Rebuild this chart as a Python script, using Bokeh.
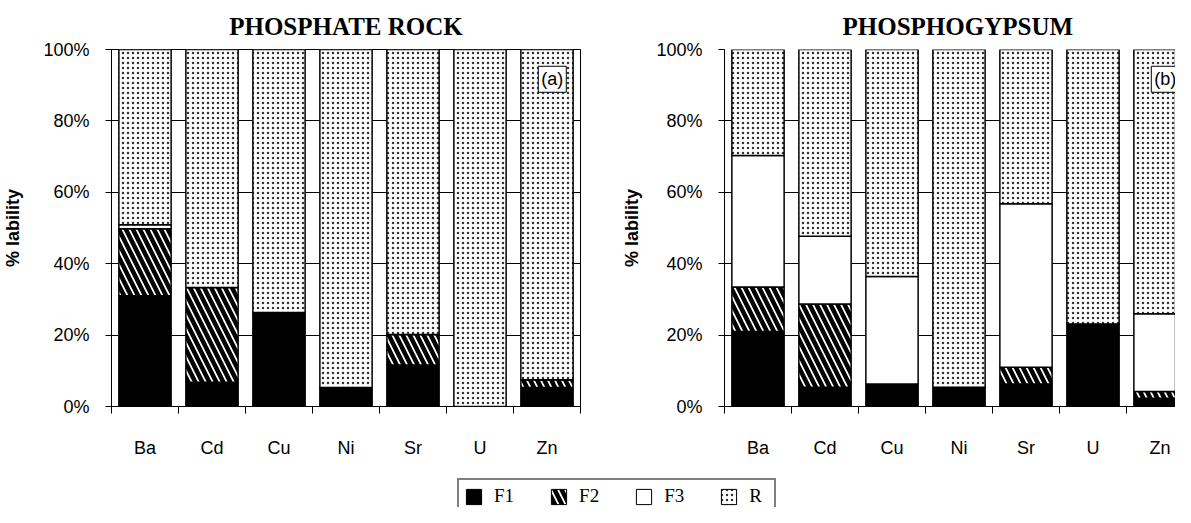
from bokeh.plotting import figure
from bokeh.layouts import column, row
from bokeh.models import Range1d, FixedTicker, Label, Legend, LegendItem, ColumnDataSource
from bokeh.embed import file_html
from bokeh.resources import INLINE

elements = ["Ba", "Cd", "Cu", "Ni", "Sr", "U", "Zn"]
fractions = ["F1", "F2", "F3", "R"]
y_ticks = [0, 20, 40, 60, 80, 100]
y_tick_labels = ["0%", "20%", "40%", "60%", "80%", "100%"]

# PHOSPHATE ROCK (%)
rock_F1 = [31.0, 6.8, 26.3, 5.3, 11.6, 0.0, 5.3]
rock_F2 = [18.8, 26.5, 0.0, 0.0, 8.6, 0.0, 2.2]
rock_F3 = [1.1, 0.0, 0.0, 0.0, 0.0, 0.0, 0.0]
rock_R = [49.1, 66.7, 73.7, 94.7, 79.8, 100.0, 92.5]

# PHOSPHOGYPSUM (%)
gyps_F1 = [21.0, 5.4, 6.3, 5.4, 6.3, 23.1, 2.3]
gyps_F2 = [12.5, 23.3, 0.0, 0.0, 4.7, 0.0, 1.9]
gyps_F3 = [36.8, 19.0, 30.1, 0.0, 45.8, 0.0, 21.8]
gyps_R = [29.7, 52.3, 63.6, 94.6, 43.2, 76.9, 74.0]

fills = ["black", "white", "white", "white"]
hatches = [None, "\\", None, "."]
hatch_colors = ["black", "black", "black", "#333333"]
hatch_scales = [1, 14, 1, 5]
hatch_weights = [1, 4.5, 1, 1.2]

SANS = "Liberation Sans"
SERIF = "Liberation Serif"

centers = [i + 0.5 for i in range(len(elements))]
bounds = [float(i) for i in range(len(elements) + 1)]


def stack(p, src):
    return p.vbar_stack(fractions, x="x", width=0.78, source=src,
                        fill_color=fills, hatch_pattern=hatches, hatch_color=hatch_colors,
                        hatch_scale=hatch_scales, hatch_weight=hatch_weights,
                        line_color="black", line_width=1.5)


def make_chart(title, src, tag, width, border_left, border_right, x_end, outline, label_standoff):
    p = figure(width=width, height=474, title=title,
               x_range=Range1d(0, x_end), y_range=Range1d(0, 100),
               toolbar_location=None, output_backend="svg",
               min_border_left=border_left, min_border_right=border_right,
               min_border_top=48, min_border_bottom=68)
    p.background_fill_color = "white"
    p.border_fill_color = "white"
    p.outline_line_color = "black" if outline else None
    p.outline_line_width = 1

    p.title.text_font = SERIF
    p.title.text_font_size = "25px"
    p.title.text_font_style = "bold"
    p.title.text_color = "black"
    p.title.standoff = 20

    stack(p, src)

    xa = p.xaxis[0]
    xa.ticker = FixedTicker(ticks=centers, minor_ticks=bounds)
    xa.major_label_overrides = {c: e for c, e in zip(centers, elements)}
    xa.major_tick_line_color = None
    xa.major_tick_out = 0
    xa.major_tick_in = 0
    xa.minor_tick_line_color = "black"
    xa.minor_tick_out = 7
    xa.minor_tick_in = 0
    xa.axis_line_color = "black"
    xa.major_label_text_font = SANS
    xa.major_label_text_font_size = "18px"
    xa.major_label_text_color = "black"
    xa.major_label_standoff = 24

    ya = p.yaxis[0]
    ya.ticker = FixedTicker(ticks=y_ticks, minor_ticks=[])
    ya.major_label_overrides = {t: l for t, l in zip(y_ticks, y_tick_labels)}
    ya.major_tick_out = 6
    ya.major_tick_in = 0
    ya.major_tick_line_color = "black"
    ya.axis_line_color = "black"
    ya.major_label_text_font = SANS
    ya.major_label_text_font_size = "18px"
    ya.major_label_text_color = "black"
    ya.major_label_standoff = 16
    ya.axis_label = "% lability"
    ya.axis_label_text_font = SANS
    ya.axis_label_text_font_size = "18px"
    ya.axis_label_text_font_style = "bold"
    ya.axis_label_text_color = "black"
    ya.axis_label_standoff = label_standoff

    p.xgrid.grid_line_color = None
    p.ygrid.ticker = FixedTicker(ticks=y_ticks)
    p.ygrid.grid_line_color = "black"
    p.ygrid.grid_line_width = 1

    p.add_layout(Label(x=6.37, y=95.3, text=tag, text_align="left", text_baseline="top",
                       text_font=SANS, text_font_size="18px", text_color="black",
                       border_line_color="black", border_line_width=1,
                       background_fill_color="white", padding=3))
    return p


src_rock = ColumnDataSource(dict(x=centers, F1=rock_F1, F2=rock_F2, F3=rock_F3, R=rock_R))
src_gyps = ColumnDataSource(dict(x=centers, F1=gyps_F1, F2=gyps_F2, F3=gyps_F3, R=gyps_R))

left = make_chart("PHOSPHATE ROCK", src_rock, "(a)", 590, 111, 10, 7, True, 17)
left.title.align = "center"
right = make_chart("PHOSPHOGYPSUM", src_gyps, "(b)", 585, 134, 0, 451 / 67, False, 11)
right.title.align = "left"
right.title.offset = 118

# legend strip: proxy stacks kept outside the visible ranges
lg = figure(width=1175, height=33, toolbar_location=None, output_backend="svg",
            x_range=Range1d(-100, -99), y_range=Range1d(-100, -99),
            x_axis_location=None, y_axis_location=None, min_border=0)
lg.grid.visible = False
lg.outline_line_color = None
lg.background_fill_color = "white"
lg.border_fill_color = "white"
proxies = stack(lg, src_rock)
for r in proxies:
    r.glyph.line_width = 1
items = [LegendItem(label=name, renderers=[r]) for name, r in zip(fractions, proxies)]
legend = Legend(items=items, orientation="horizontal", location=(457, -7),
                label_text_font=SERIF, label_text_font_size="19px", label_text_color="black",
                glyph_width=19, glyph_height=19, label_standoff=11, spacing=35,
                padding=5, margin=0, border_line_color="black", border_line_width=2,
                background_fill_color="white", background_fill_alpha=1, label_height=15)
lg.add_layout(legend)

layout = column(row(left, right), lg)
open("out.html", "w").write(file_html(layout, INLINE))
